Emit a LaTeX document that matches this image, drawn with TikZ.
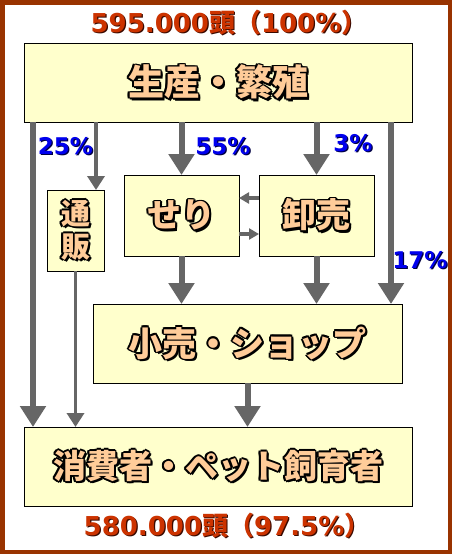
\documentclass[tikz,border=0pt]{standalone}
\usepackage{fontspec}
\setmainfont{DejaVu Sans}
\newfontfamily\jp{Noto Sans CJK JP}
\usetikzlibrary{arrows.meta,shadows}
\definecolor{frame}{HTML}{993300}
\definecolor{paper}{HTML}{FFFFCC}
\definecolor{peach}{HTML}{FFCC99}
\definecolor{rust}{HTML}{CC3300}
\definecolor{rustdark}{HTML}{3A0A00}
\definecolor{pctblue}{HTML}{0000EE}
\definecolor{pctdark}{HTML}{000044}
\definecolor{arrowgray}{HTML}{666666}

% text with a black rim
\newcommand\putat[2]{\rlap{\kern#1\raise#2\copy0}}
\newcommand\rimmed[1]{{\setbox0\hbox{#1}\color{black}%
\putat{1.6pt}{0pt}\putat{-1.6pt}{0pt}\putat{0pt}{1.6pt}\putat{0pt}{-1.6pt}%
\putat{1.2pt}{1.2pt}\putat{-1.2pt}{1.2pt}\putat{1.2pt}{-1.2pt}\putat{-1.2pt}{-1.2pt}%
\putat{2.4pt}{-2.4pt}\putat{2.4pt}{-1pt}%
\color{peach}\box0}}
% text with a dark shadow
\newcommand\shaded[3]{{\setbox0\hbox{#3}\color{#2}\putat{1.2pt}{-1.2pt}\color{#1}\box0}}

\begin{document}
\begin{tikzpicture}[x=1pt,y=-1pt,
  panel/.style={draw=black, line width=0.8pt, fill=paper, inner sep=0pt, outer sep=0pt,
    drop shadow={shadow xshift=1.2pt, shadow yshift=-1.2pt, fill=black!60, opacity=1},
    font=\jp\bfseries\fontsize{34}{38}\selectfont},
  fatarrow/.style={draw=arrowgray, line width=6pt, -{Triangle[width=25pt,length=21pt]}},
  thinarrow/.style={draw=arrowgray, line width=3.6pt, -{Triangle[width=17pt,length=14pt]}},
  tinyarrow/.style={draw=arrowgray, line width=4pt, -{Triangle[width=11pt,length=10pt]}},
  pct/.style={font=\bfseries\fontsize{23}{23}\selectfont, inner sep=0pt},
  total/.style={font=\bfseries\fontsize{26}{26}\selectfont, inner sep=0pt}]

\useasboundingbox (0,0) rectangle (452,554);
\fill[white] (0,0) rectangle (452,554);
\draw[frame, line width=4.5pt] (2.25,2.25) rectangle (449.75,551.75);

\node[total] (top) at (229,23) {\shaded{rust}{rustdark}{595.000{\jp 頭（}100\%{\jp ）}}};
\node[total] (bottom) at (227,526) {\shaded{rust}{rustdark}{580.000{\jp 頭（}97.5\%{\jp ）}}};

\node[panel, minimum width=388pt, minimum height=79pt,
  font=\jp\bfseries\fontsize{36}{38}\selectfont] (prod) at (218,82.5) {\rimmed{生産・繁殖}};
\node[panel, minimum width=57pt, minimum height=81pt, align=center,
  font=\jp\bfseries\fontsize{29}{33}\selectfont] (tsuhan) at (75.5,230.5) {\rimmed{通}\\\rimmed{販}};
\node[panel, minimum width=115pt, minimum height=81pt] (seri) at (181.5,215.5) {\rimmed{せり}};
\node[panel, minimum width=115pt, minimum height=81pt] (oroshi) at (316.5,215.5) {\rimmed{卸売}};
\node[panel, minimum width=309pt, minimum height=79pt] (kouri) at (247.5,343.5) {\rimmed{小売・ショップ}};
\node[panel, minimum width=388pt, minimum height=79pt,
  font=\jp\bfseries\fontsize{33}{38}\selectfont] (shohi) at (218,466.5) {\rimmed{消費者・ペット飼育者}};

\coordinate (xl) at (33,0);
\coordinate (xt) at (96,0);
\coordinate (xr) at (391,0);
\coordinate (ya) at (0,198);
\coordinate (yb) at (0,234);

\draw[fatarrow] (prod.south -| xl) -- (shohi.north -| xl);
\draw[thinarrow] (prod.south -| xt) -- (tsuhan.north -| xt);
\draw[fatarrow] (prod.south -| seri) -- (seri.north);
\draw[fatarrow] (prod.south -| oroshi) -- (oroshi.north);
\draw[fatarrow] (prod.south -| xr) -- (kouri.north -| xr);
\draw[fatarrow] (seri.south) -- (kouri.north -| seri);
\draw[fatarrow] (oroshi.south) -- (kouri.north -| oroshi);
\draw[thinarrow] (tsuhan.south) -- (shohi.north -| tsuhan);
\draw[fatarrow] (kouri.south) -- (shohi.north -| kouri);
\draw[tinyarrow] (oroshi.west |- ya) -- (seri.east |- ya);
\draw[tinyarrow] (seri.east |- yb) -- (oroshi.west |- yb);

\node[pct] (p25) at (65.5,147) {\shaded{pctblue}{pctdark}{25\%}};
\node[pct] (p55) at (223,147) {\shaded{pctblue}{pctdark}{55\%}};
\node[pct] (p3) at (353,144) {\shaded{pctblue}{pctdark}{3\%}};
\node[pct] (p17) at (420,261) {\shaded{pctblue}{pctdark}{17\%}};
\end{tikzpicture}
\end{document}
